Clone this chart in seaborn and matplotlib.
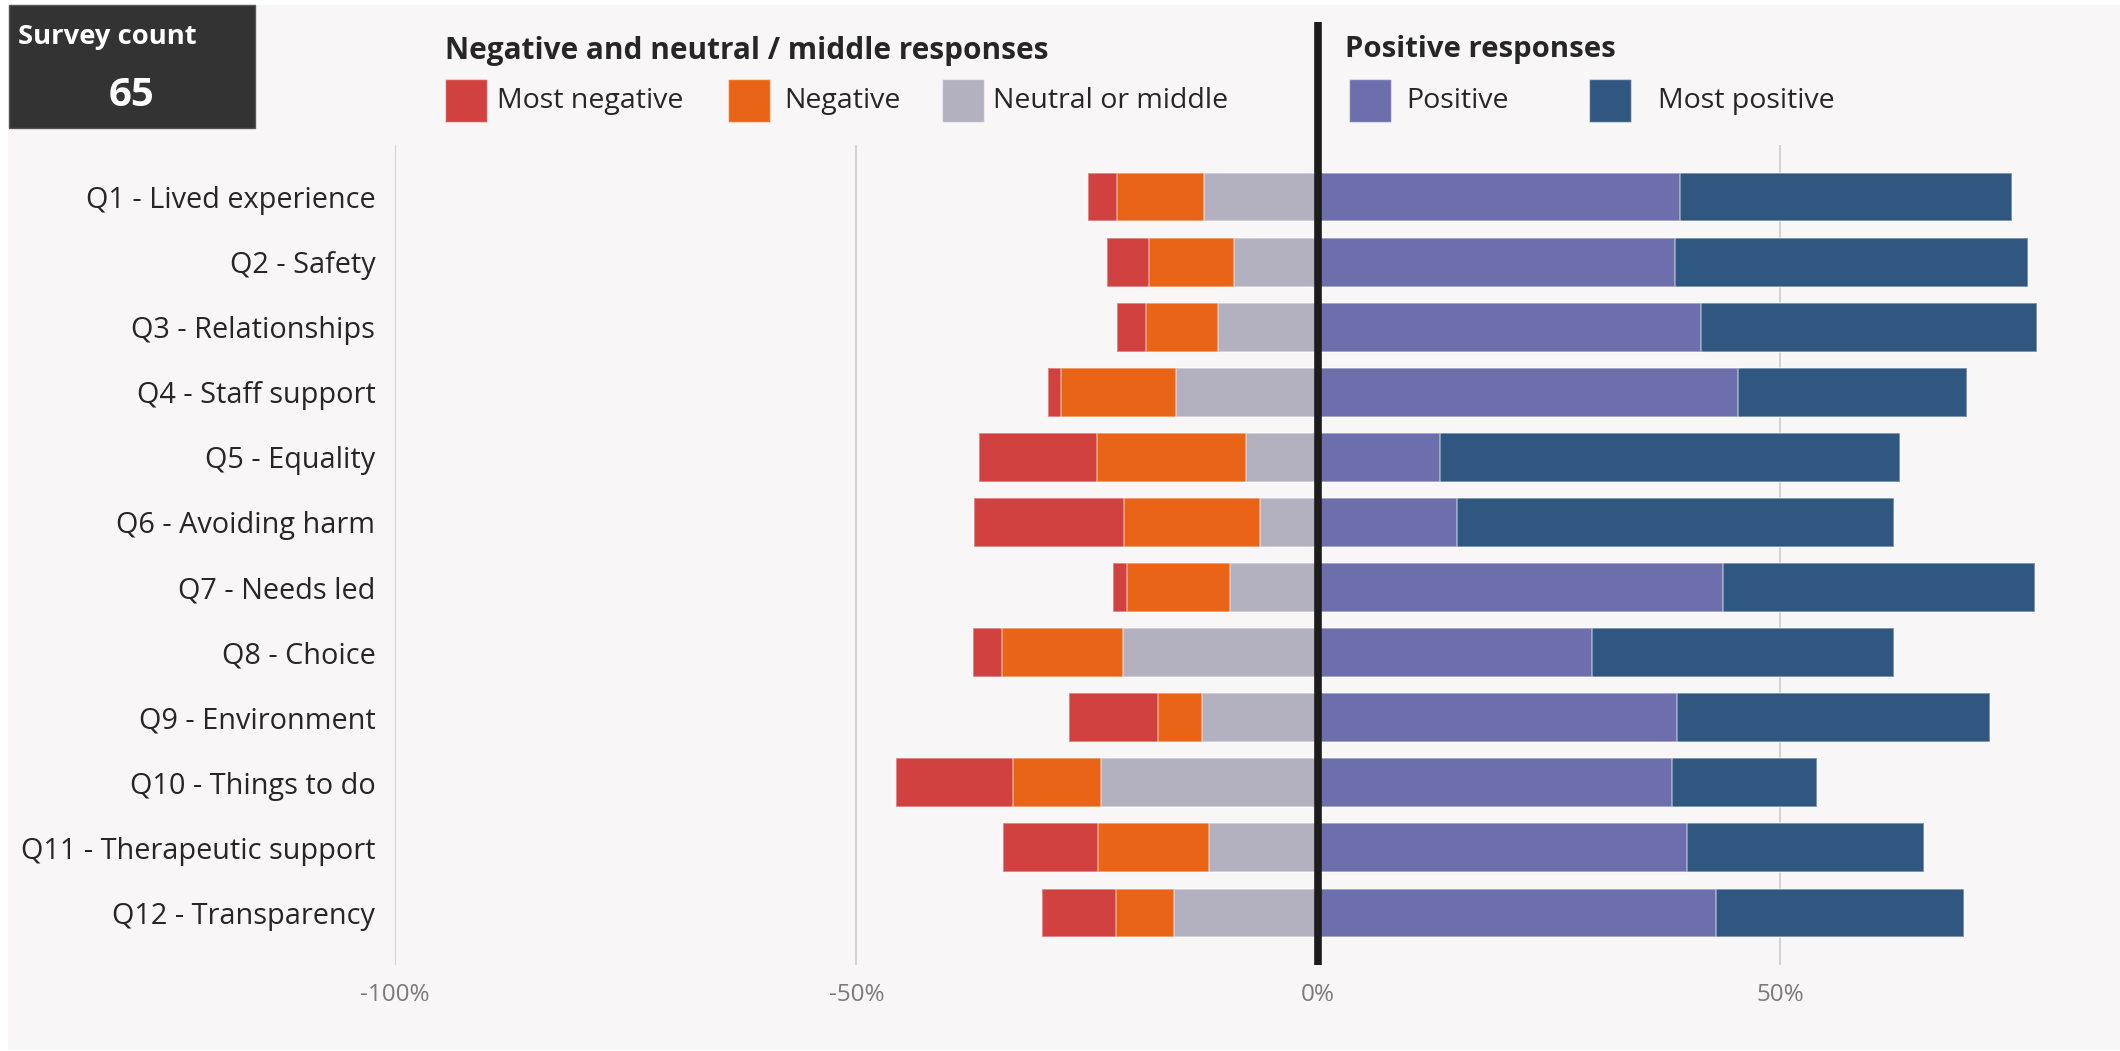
import matplotlib
matplotlib.use("Agg")
import matplotlib.pyplot as plt
from matplotlib.patches import Rectangle
import numpy as np
import pandas as pd
import seaborn as sns

# Survey questions and response shares (% of respondents)
questions = [
    "Q1 - Lived experience", "Q2 - Safety", "Q3 - Relationships",
    "Q4 - Staff support", "Q5 - Equality", "Q6 - Avoiding harm",
    "Q7 - Needs led", "Q8 - Choice", "Q9 - Environment",
    "Q10 - Things to do", "Q11 - Therapeutic support", "Q12 - Transparency",
]
most_negative = [3.1, 4.6, 3.1, 1.5, 12.8, 16.3, 1.5, 3.2, 9.6, 12.6, 10.3, 8.0]
negative = [9.4, 9.2, 7.8, 12.4, 16.1, 14.7, 11.2, 13.1, 4.8, 9.6, 12.0, 6.3]
neutral = [12.4, 9.1, 10.9, 15.4, 7.8, 6.3, 9.5, 21.1, 12.6, 23.5, 11.8, 15.6]
positive = [39.2, 38.6, 41.4, 45.5, 13.2, 15.0, 43.8, 29.7, 38.9, 38.3, 39.9, 43.1]
most_positive = [35.9, 38.3, 36.4, 24.8, 49.8, 47.4, 33.8, 32.6, 33.8, 15.7, 25.7, 26.8]
survey_count = 65

x_ticks = [-100, -50, 0, 50]
x_tick_labels = ["-100%", "-50%", "0%", "50%"]

neg_labels = ["Most negative", "Negative", "Neutral or middle"]
pos_labels = ["Positive", "Most positive"]

C_MOST_NEG = "#d0413f"
C_NEG = "#e96416"
C_NEUTRAL = "#b3b0bf"
C_POS = "#6d6fad"
C_MOST_POS = "#30577f"
BG = "#f8f6f7"

df = pd.DataFrame({
    "question": questions,
    "most_negative": most_negative,
    "negative": negative,
    "neutral": neutral,
    "positive": positive,
    "most_positive": most_positive,
})
# Cumulative extents: negatives grow leftwards from zero, positives rightwards
df["neg_outer"] = -(df["most_negative"] + df["negative"] + df["neutral"])
df["neg_mid"] = -(df["negative"] + df["neutral"])
df["neg_inner"] = -df["neutral"]
df["pos_outer"] = df["positive"] + df["most_positive"]
df["pos_inner"] = df["positive"]

sns.set_style("white")
plt.rcParams["font.family"] = ["Open Sans", "DejaVu Sans"]

W, H = 2120, 1051
fig = plt.figure(figsize=(W / 100, H / 100), dpi=100, facecolor="white")


def fx(px):
    return px / W


def fy(py):
    return 1 - py / H


# Panel background
fig.patches.append(Rectangle((fx(8), fy(1050)), fx(2120) - fx(8), fy(5) - fy(1050),
                             transform=fig.transFigure, facecolor=BG, edgecolor="none",
                             zorder=-10))

ax = fig.add_axes([fx(394.7), fy(965), fx(2112.4) - fx(394.7), fy(145) - fy(965)])
ax.set_facecolor("none")
ax.set_zorder(1)

edge = (1, 1, 1, 0.45)
layers = [
    ("neg_outer", C_MOST_NEG), ("neg_mid", C_NEG), ("neg_inner", C_NEUTRAL),
    ("pos_outer", C_MOST_POS), ("pos_inner", C_POS),
]
for col, color in layers:
    sns.barplot(data=df, x=col, y="question", order=questions, orient="h",
                color=color, saturation=1, width=0.75, errorbar=None,
                edgecolor=edge, linewidth=1.2, ax=ax, zorder=3)

# Gridlines and the heavy zero divider
for t in x_ticks:
    if t != 0:
        ax.axvline(t, color="#c9c7ca", lw=1.1, zorder=1)
ax.axvline(0, ymin=0, ymax=1.15, color="#1c1c1c", lw=5.5, zorder=5, clip_on=False,
           solid_capstyle="butt")

ax.set_xlim(-100, 86)
ax.set_ylim(len(questions) - 0.2, -0.8)
ax.set_xticks(x_ticks)
ax.set_xticklabels(x_tick_labels, color="#7a7a7a", fontsize=17.5)
ax.tick_params(axis="x", length=0, pad=13)
ax.tick_params(axis="y", length=0, pad=14, labelsize=20.8, labelcolor="#262626")
ax.set_xlabel("")
ax.set_ylabel("")
for s in ax.spines.values():
    s.set_visible(False)

# Survey count card
fig.patches.append(Rectangle((fx(9), fy(128)), fx(255) - fx(9), fy(5) - fy(128),
                             transform=fig.transFigure, facecolor="#333333",
                             edgecolor="#555555", lw=1, zorder=2))
fig.text(fx(18), fy(37), "Survey count", color="white", fontsize=19.7, fontweight="bold",
         va="center", ha="left", zorder=3)
fig.text(fx(132), fy(95), str(survey_count), color="white", fontsize=29, fontweight="bold",
         va="center", ha="center", zorder=3)

# Legend headings
fig.text(fx(445), fy(51), "Negative and neutral / middle responses", color="#262626",
         fontsize=21.4, fontweight="bold", va="center", ha="left")
fig.text(fx(1345), fy(50), "Positive responses", color="#262626",
         fontsize=21.1, fontweight="bold", va="center", ha="left")

# Legend swatches
legend_items = [
    (445, 497, C_MOST_NEG, neg_labels[0]),
    (728, 784, C_NEG, neg_labels[1]),
    (942, 993, C_NEUTRAL, neg_labels[2]),
    (1349, 1406, C_POS, pos_labels[0]),
    (1589, 1658, C_MOST_POS, pos_labels[1]),
]
for px0, tx, color, label in legend_items:
    fig.patches.append(Rectangle((fx(px0), fy(122)), fx(px0 + 42) - fx(px0), fy(79) - fy(122),
                                 transform=fig.transFigure, facecolor=color,
                                 edgecolor=(1, 1, 1, 0.5), lw=1, zorder=2))
    fig.text(fx(tx), fy(101), label, color="#262626", fontsize=20.5,
             va="center", ha="left")

fig.savefig("out.png", dpi=100, facecolor="white")
